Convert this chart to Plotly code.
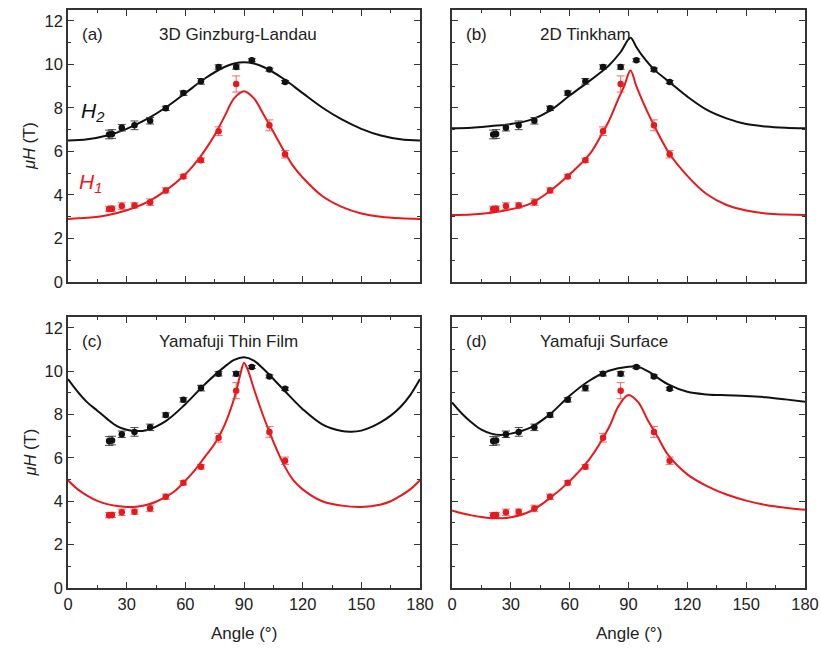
import plotly.graph_objects as go

W, H = 821, 648

# ---------------- measured points (shared by all panels) ----------------
ang_H2 = [21, 22.5, 27.5, 34, 42, 50, 59, 68, 77, 86, 94, 103, 111]
val_H2 = [6.78, 6.80, 7.09, 7.20, 7.41, 7.98, 8.68, 9.22, 9.88, 9.88, 10.19, 9.76, 9.19]
err_H2 = [0.20, 0.20, 0.15, 0.20, 0.15, 0.10, 0.10, 0.13, 0.10, 0.10, 0.07, 0.07, 0.07]

ang_H1 = [21, 22.5, 27.5, 34, 42, 50, 59, 68, 77, 86, 103, 111]
val_H1 = [3.36, 3.37, 3.49, 3.52, 3.67, 4.21, 4.85, 5.59, 6.93, 9.10, 7.20, 5.87]
err_H1 = [0.12, 0.12, 0.15, 0.12, 0.15, 0.12, 0.10, 0.10, 0.20, 0.37, 0.25, 0.17]

# ---------------- model curves ----------------
# (a) 3D Ginzburg-Landau
gl_ang2 = [0, 10, 20, 30, 40, 50, 60, 70, 80, 85, 90, 95, 100, 110, 120, 130, 140, 150, 160, 170, 180]
gl_H2 = [6.50, 6.56, 6.73, 7.04, 7.47, 8.02, 8.68, 9.35, 9.88, 10.04, 10.10, 10.04, 9.88, 9.35, 8.68, 8.02,
         7.47, 7.04, 6.73, 6.56, 6.50]
gl_ang1 = [0, 10, 20, 30, 40, 50, 60, 65, 70, 75, 80, 85, 90, 95, 100, 105, 110, 115, 120, 130, 140, 150,
           160, 170, 180]
gl_H1 = [2.90, 2.95, 3.07, 3.30, 3.65, 4.20, 4.95, 5.45, 6.05, 6.75, 7.60, 8.45, 8.77, 8.45, 7.70, 6.90,
         6.10, 5.35, 4.80, 3.95, 3.45, 3.15, 3.00, 2.93, 2.90]

# (b) 2D Tinkham
tk_ang2 = [0, 10, 20, 30, 40, 50, 60, 70, 77, 80, 86, 91, 94, 97, 103, 111, 120, 130, 140, 150, 160, 170, 180]
tk_H2 = [7.06, 7.09, 7.17, 7.26, 7.45, 7.88, 8.57, 9.23, 9.72, 9.95, 10.57, 11.23, 10.80, 10.40, 9.77, 9.18,
         8.52, 7.91, 7.52, 7.26, 7.15, 7.09, 7.06]
tk_ang1 = [0, 10, 20, 30, 40, 50, 60, 70, 77, 80, 85, 88, 91, 94, 97, 100, 103, 111, 120, 130, 140, 150,
           160, 170, 180]
tk_H1 = [3.08, 3.10, 3.18, 3.34, 3.60, 4.18, 4.95, 5.85, 6.90, 7.40, 8.45, 9.05, 9.72, 9.00, 8.35, 7.75,
         7.20, 5.88, 4.88, 4.03, 3.54, 3.29, 3.15, 3.10, 3.08]

# (c) Yamafuji thin film
yt_ang2 = [0, 5, 10, 15, 20, 25, 30, 35, 40, 50, 60, 70, 80, 85, 90, 95, 100, 110, 120, 130, 140, 145,
           150, 155, 160, 165, 170, 175, 180]
yt_H2 = [9.64, 9.05, 8.55, 8.18, 7.80, 7.47, 7.30, 7.24, 7.28, 7.70, 8.48, 9.40, 10.20, 10.52, 10.64,
         10.49, 10.10, 9.17, 8.25, 7.55, 7.24, 7.21, 7.26, 7.42, 7.65, 7.95, 8.35, 8.90, 9.64]
yt_ang1 = [0, 5, 10, 15, 20, 25, 30, 35, 40, 45, 50, 55, 60, 65, 70, 75, 80, 85, 88, 90, 92, 95, 100,
           105, 110, 115, 120, 130, 140, 150, 160, 165, 170, 175, 180]
yt_H1 = [4.97, 4.55, 4.25, 4.02, 3.87, 3.78, 3.74, 3.75, 3.83, 3.98, 4.20, 4.50, 4.95, 5.45, 6.05, 6.65,
         7.50, 8.75, 9.80, 10.38, 10.05, 9.20, 7.90, 6.75, 5.75, 5.00, 4.55, 4.00, 3.80, 3.74, 3.85, 4.00,
         4.25, 4.55, 4.97]

# (d) Yamafuji surface
ys_ang2 = [0, 5, 10, 15, 20, 25, 30, 40, 50, 60, 70, 80, 90, 95, 100, 110, 120, 130, 140, 150, 160, 170, 180]
ys_H2 = [8.56, 8.05, 7.63, 7.30, 7.12, 7.06, 7.12, 7.40, 8.02, 8.87, 9.56, 10.02, 10.21, 10.20, 9.99,
         9.40, 9.05, 8.93, 8.89, 8.86, 8.80, 8.70, 8.59]
ys_ang1 = [0, 5, 10, 15, 20, 25, 30, 40, 50, 60, 70, 80, 85, 90, 95, 100, 105, 110, 120, 130, 140, 150,
           160, 170, 180]
ys_H1 = [3.58, 3.45, 3.35, 3.27, 3.22, 3.22, 3.26, 3.54, 4.15, 4.93, 5.93, 7.40, 8.40, 8.90, 8.56, 7.71,
         6.95, 6.16, 5.24, 4.70, 4.31, 4.03, 3.83, 3.70, 3.61]

x_ticks = [0, 30, 60, 90, 120, 150, 180]
y_ticks = [0, 2, 4, 6, 8, 10, 12]

panels = [
    dict(tag="(a)", title="3D Ginzburg-Landau", c2=(gl_ang2, gl_H2), c1=(gl_ang1, gl_H1)),
    dict(tag="(b)", title="2D Tinkham", c2=(tk_ang2, tk_H2), c1=(tk_ang1, tk_H1)),
    dict(tag="(c)", title="Yamafuji Thin Film", c2=(yt_ang2, yt_H2), c1=(yt_ang1, yt_H1)),
    dict(tag="(d)", title="Yamafuji Surface", c2=(ys_ang2, ys_H2), c1=(ys_ang1, ys_H1)),
]

BLACK = "#111111"
RED = "#e8191c"
FONT = "Arial, Liberation Sans, sans-serif"

# pixel frames of the four plot areas: (left, right, top, bottom)
frames = [(68, 420, 10, 282), (452, 805, 10, 282), (68, 420, 317, 588), (452, 805, 317, 588)]


def fx(px):
    return px / W


def fy(py):
    return 1 - py / H


fig = go.Figure()
layout = dict(
    width=W, height=H, autosize=False, margin=dict(l=0, r=0, t=0, b=0, pad=0, autoexpand=False),
    paper_bgcolor="white", plot_bgcolor="white", showlegend=False,
    font=dict(family=FONT, size=16, color="#222222"),
)
annotations = []

for i, p in enumerate(panels):
    n = "" if i == 0 else str(i + 1)
    xr, yr = "x" + n, "y" + n
    l, r, t, b = frames[i]
    bottom = i >= 2
    left = i % 2 == 0

    fig.add_trace(go.Scatter(x=p["c2"][0], y=p["c2"][1], mode="lines", line=dict(color=BLACK, width=2, shape="spline"),
                             xaxis=xr, yaxis=yr, hoverinfo="skip"))
    fig.add_trace(go.Scatter(x=p["c1"][0], y=p["c1"][1], mode="lines", line=dict(color=RED, width=2, shape="spline"),
                             xaxis=xr, yaxis=yr, hoverinfo="skip"))
    fig.add_trace(go.Scatter(x=ang_H2, y=val_H2, mode="markers", marker=dict(color=BLACK, size=6.5),
                             error_y=dict(type="data", array=err_H2, color="#444444", thickness=1, width=4),
                             xaxis=xr, yaxis=yr))
    fig.add_trace(go.Scatter(x=ang_H1, y=val_H1, mode="markers", marker=dict(color=RED, size=6.5),
                             error_y=dict(type="data", array=err_H1, color="rgba(225,60,60,0.75)", thickness=1, width=4),
                             xaxis=xr, yaxis=yr))

    axis_common = dict(showline=True, linecolor="#333333", linewidth=1.5, mirror="allticks",
                       ticks="inside", ticklen=6, tickwidth=1.3, tickcolor="#333333", automargin=False,
                       showgrid=False, zeroline=False, tickfont=dict(family=FONT, size=16.5, color="#222222"))
    layout["xaxis" + n] = dict(
        axis_common, domain=[fx(l), fx(r)], anchor=yr, range=[0, 180],
        tickmode="array", tickvals=x_ticks, ticktext=[str(v) for v in x_ticks], showticklabels=bottom,
        minor=dict(ticks="inside", ticklen=3.5, tickwidth=1.2, tickcolor="#333333", dtick=15, tick0=0, showgrid=False),
    )
    layout["yaxis" + n] = dict(
        axis_common, domain=[fy(b), fy(t)], anchor=xr, range=[0, 12.5],
        tickmode="array", tickvals=y_ticks, ticktext=[str(v) for v in y_ticks], showticklabels=left,
        minor=dict(ticks="inside", ticklen=3.5, tickwidth=1.2, tickcolor="#333333", dtick=1, tick0=0, showgrid=False),
    )

    ty = t + 24
    annotations.append(dict(text=p["tag"], x=fx(l + 12), y=fy(ty), xref="paper", yref="paper",
                            xanchor="left", yanchor="middle", showarrow=False,
                            font=dict(family=FONT, size=17, color="#222222")))
    annotations.append(dict(text=p["title"], x=fx(l + (89 if left else 86)), y=fy(ty), xref="paper", yref="paper",
                            xanchor="left", yanchor="middle", showarrow=False,
                            font=dict(family=FONT, size=17, color="#222222")))
    if left:
        annotations.append(dict(text="<i>μH</i> (T)", x=fx(29), y=fy((t + b) / 2), xref="paper", yref="paper",
                                textangle=-90, xanchor="center", yanchor="middle", showarrow=False,
                                font=dict(family=FONT, size=16.5, color="#222222")))
    if bottom:
        annotations.append(dict(text="Angle (°)", x=fx((l + r) / 2), y=fy(633), xref="paper", yref="paper",
                                xanchor="center", yanchor="middle", showarrow=False,
                                font=dict(family=FONT, size=17, color="#222222")))

annotations.append(dict(text="<i>H</i><sub><i>2</i></sub>", x=fx(79), y=fy(112), xref="paper", yref="paper",
                        xanchor="left", yanchor="middle", showarrow=False,
                        font=dict(family=FONT, size=21, color=BLACK)))
annotations.append(dict(text="<i>H</i><sub><i>1</i></sub>", x=fx(77), y=fy(183), xref="paper", yref="paper",
                        xanchor="left", yanchor="middle", showarrow=False,
                        font=dict(family=FONT, size=21, color=RED)))

layout["annotations"] = annotations
fig.update_layout(**layout)
fig.write_html(
    "out.html",
    config={"responsive": False, "displayModeBar": False},
    post_script="document.body.style.margin='0';document.body.style.padding='0';document.body.style.overflow='hidden';",
)
